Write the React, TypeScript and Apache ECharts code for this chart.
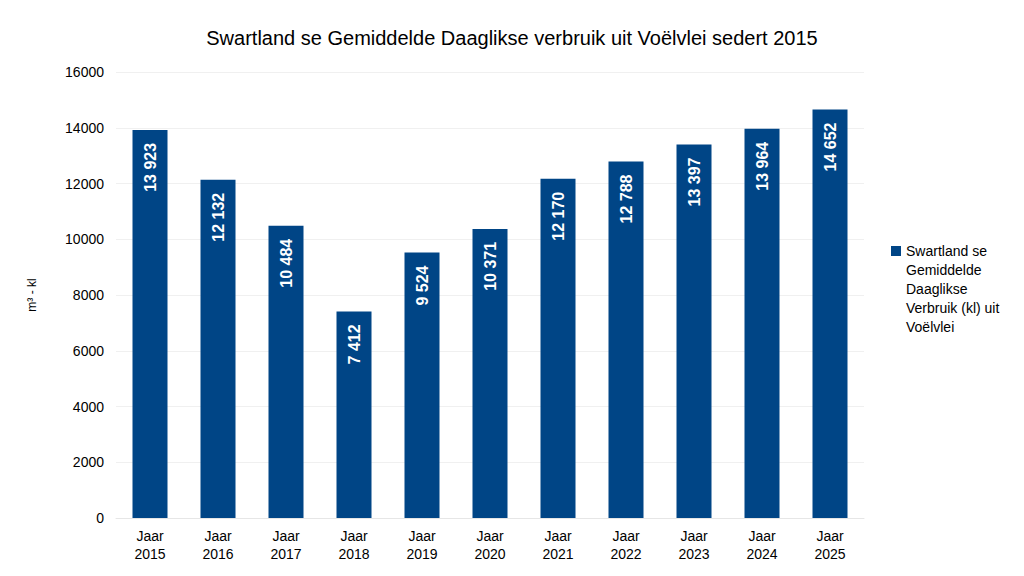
import React, { useEffect, useRef } from "react";
import * as echarts from "echarts";

const categories = ["Jaar\n2015", "Jaar\n2016", "Jaar\n2017", "Jaar\n2018", "Jaar\n2019", "Jaar\n2020", "Jaar\n2021", "Jaar\n2022", "Jaar\n2023", "Jaar\n2024", "Jaar\n2025"];
const values = [13923, 12132, 10484, 7412, 9524, 10371, 12170, 12788, 13397, 13964, 14652];
const seriesName = "Swartland se Gemiddelde Daaglikse Verbruik (kl) uit Voëlvlei";
const legendLabel = "Swartland se\nGemiddelde\nDaaglikse\nVerbruik (kl) uit\nVoëlvlei";

const fmt = (v: number) => String(v).replace(/\B(?=(\d{3})+(?!\d))/g, " ");

export default function App() {
  const ref = useRef<HTMLDivElement>(null);
  useEffect(() => {
    if (!ref.current) return;
    const chart = echarts.init(ref.current, null, { renderer: "svg" });
    const font = "Liberation Sans, Arial, sans-serif";
    chart.setOption({
      animation: false,
      backgroundColor: "#ffffff",
      textStyle: { fontFamily: font },
      title: {
        text: "Swartland se Gemiddelde Daaglikse verbruik uit Voëlvlei sedert 2015",
        left: "center",
        top: 23,
        textStyle: { fontSize: 20, fontWeight: "normal", color: "#000", fontFamily: font },
      },
      legend: { show: false },
      graphic: [
        {
          type: "rect",
          left: 891,
          top: 246,
          shape: { width: 10, height: 10 },
          style: { fill: "#004586" },
        },
        {
          type: "text",
          left: 906,
          top: 241,
          style: {
            text: legendLabel,
            fill: "#000",
            font: `14px ${font}`,
            lineHeight: 19,
          },
        },
      ],
      grid: { left: 116, right: 160, top: 72, bottom: 58, containLabel: false },
      xAxis: {
        type: "category",
        data: categories,
        axisLine: { lineStyle: { color: "#e6e6e6" } },
        axisTick: { show: false },
        axisLabel: { color: "#000", fontSize: 14, lineHeight: 18, margin: 9, fontFamily: font },
        splitLine: { show: false },
      },
      yAxis: {
        type: "value",
        min: 0,
        max: 16000,
        interval: 2000,
        name: "m³ - kl",
        nameLocation: "middle",
        nameGap: 78,
        nameRotate: 90,
        nameTextStyle: { color: "#000", fontSize: 12, fontFamily: font },
        axisLine: { show: false },
        axisTick: { show: false },
        axisLabel: { color: "#000", fontSize: 14, margin: 12, fontFamily: font, formatter: (v: number) => String(v) },
        splitLine: { lineStyle: { color: "#f0f0f0" } },
      },
      series: [
        {
          name: seriesName,
          type: "bar",
          data: values,
          barWidth: 35,
          itemStyle: { color: "#004586" },
          label: {
            show: true,
            position: "insideTop",
            rotate: 90,
            align: "right",
            verticalAlign: "middle",
            distance: 13,
            color: "#fff",
            fontWeight: "bold",
            fontSize: 16,
            fontFamily: font,
            formatter: (p: any) => fmt(p.value),
          },
        },
      ],
    });
    return () => chart.dispose();
  }, []);
  return <div ref={ref} style={{ width: 1024, height: 576, position: "absolute", left: 0, top: 0 }} />;
}
